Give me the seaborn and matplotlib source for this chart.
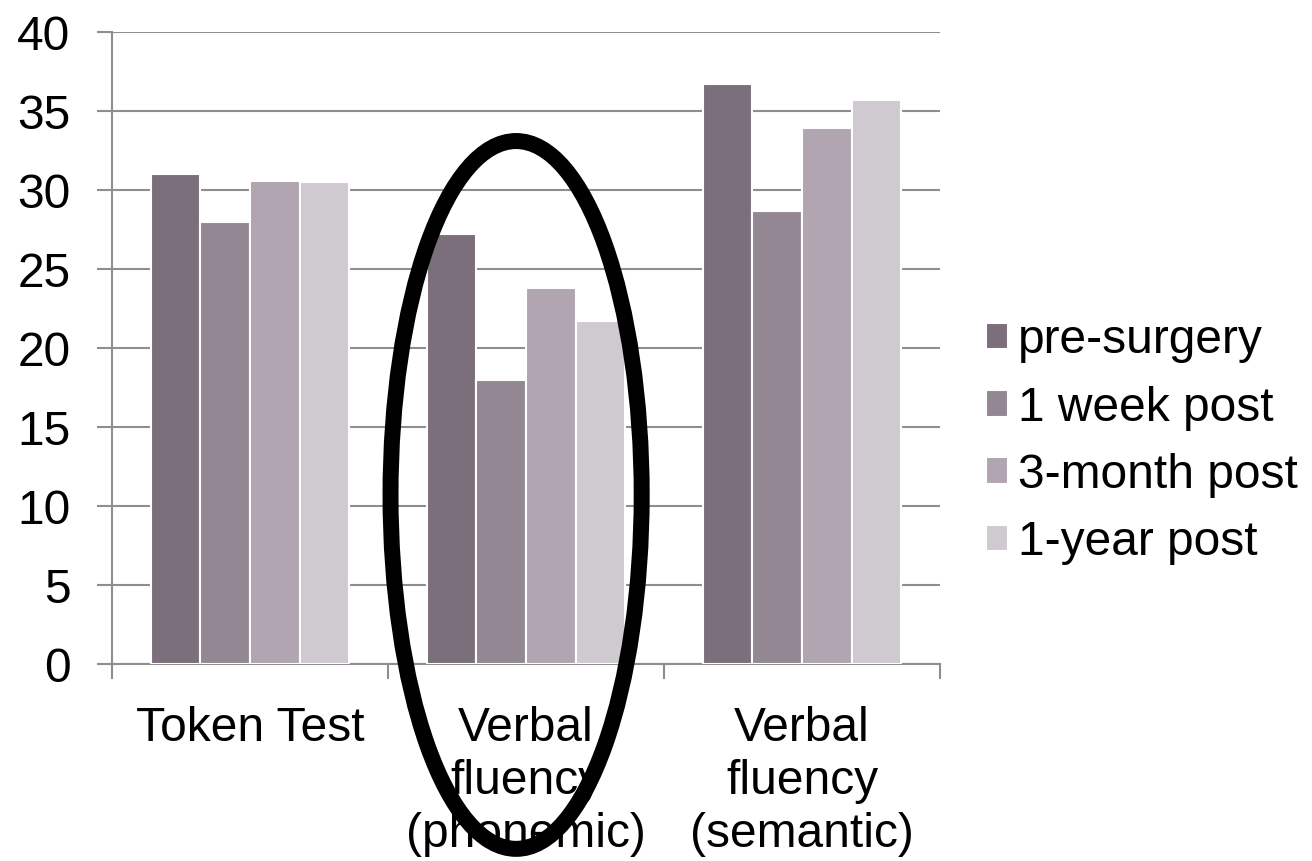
import matplotlib
matplotlib.use("Agg")
import matplotlib.pyplot as plt
from matplotlib.patches import Ellipse
import seaborn as sns
import pandas as pd

categories = ["Token Test", "Verbal\nfluency\n(phonemic)", "Verbal\nfluency\n(semantic)"]
series = ["pre-surgery", "1 week post", "3-month post", "1-year post"]
pre_surgery = [31.0, 27.2, 36.7]
week1_post = [28.0, 18.0, 28.7]
month3_post = [30.6, 23.8, 33.9]
year1_post = [30.5, 21.7, 35.7]
colors = ["#7b6f7c", "#948794", "#b0a5b1", "#cfcad0"]
y_ticks = [0, 5, 10, 15, 20, 25, 30, 35, 40]

rows = []
for s, vals in zip(series, [pre_surgery, week1_post, month3_post, year1_post]):
    for c, v in zip(categories, vals):
        rows.append({"category": c, "series": s, "value": v})
df = pd.DataFrame(rows)

sns.set_style("white")
plt.rcParams["font.family"] = ["Liberation Sans", "DejaVu Sans"]
plt.rcParams["text.color"] = "black"
plt.rcParams["xtick.labelcolor"] = "black"
plt.rcParams["ytick.labelcolor"] = "black"

FS = 34.5

fig = plt.figure(figsize=(13.12, 8.61), dpi=100)
ax = fig.add_axes([0.0854, 0.2288, 0.7165 - 0.0854, 0.9628 - 0.2288])

sns.barplot(data=df, x="category", y="value", hue="series", order=categories,
            hue_order=series, palette=colors, width=0.72, edgecolor="white",
            linewidth=1.5, saturation=1, ax=ax, zorder=3)

grid_c = "#8e8e8e"
ax.set_ylim(0, 40)
ax.set_xlim(-0.5, 2.5)
ax.set_yticks(y_ticks)
ax.set_yticklabels([str(t) for t in y_ticks], fontsize=FS, color="black")
ax.yaxis.grid(True, color=grid_c, linewidth=1.5, zorder=0)
ax.set_axisbelow(True)
ax.tick_params(axis="y", length=11, width=1.5, color=grid_c, pad=19, left=True,
               labelcolor="black")
ax.set_xticks(range(len(categories)))
ax.set_xticklabels(categories, fontsize=FS, linespacing=1.24, color="black")
ax.tick_params(axis="x", length=0, pad=30, labelcolor="black")
ax.set_xticks([-0.5, 0.5, 1.5, 2.5], minor=True)
ax.tick_params(axis="x", which="minor", length=11, width=1.5, color=grid_c, bottom=True)
ax.set_xlabel("")
ax.set_ylabel("")
for sp in ["top", "right"]:
    ax.spines[sp].set_visible(False)
for sp in ["left", "bottom"]:
    ax.spines[sp].set_color(grid_c)
    ax.spines[sp].set_linewidth(1.5)

leg = ax.legend(loc="center left", bbox_to_anchor=(1.056, 0.352), frameon=False,
                fontsize=FS, handlelength=0.46, handleheight=0.46,
                handletextpad=0.2, labelspacing=0.46, borderpad=0,
                borderaxespad=0)
for h in leg.legend_handles:
    h.set_edgecolor("white")
for t in leg.get_texts():
    t.set_color("black")

ell = Ellipse((0.964, 10.7), width=0.91, height=44.8, fill=False,
              edgecolor="black", linewidth=11.5, clip_on=False, zorder=10)
ax.add_patch(ell)

fig.savefig("out.png", dpi=100)
